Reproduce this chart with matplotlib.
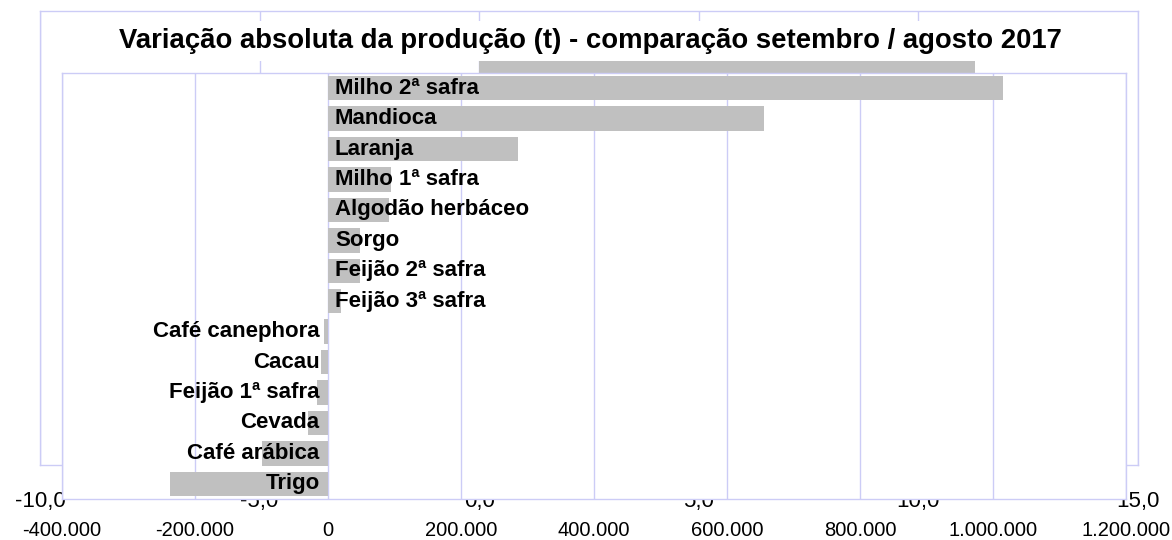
import matplotlib
matplotlib.use("Agg")
import matplotlib.pyplot as plt
from matplotlib.ticker import FuncFormatter

plt.rcParams['font.family'] = ['Liberation Sans', 'DejaVu Sans']

# ---- data ----
title = "Variação absoluta da produção (t) - comparação setembro / agosto 2017"

categories = ["Milho 2ª safra", "Mandioca", "Laranja", "Milho 1ª safra",
              "Algodão herbáceo", "Sorgo", "Feijão 2ª safra", "Feijão 3ª safra",
              "Café canephora", "Cacau", "Feijão 1ª safra", "Cevada",
              "Café arábica", "Trigo"]
values = [1015000, 655000, 286000, 95000, 92000, 48500, 48500, 19000,
          -6600, -10000, -16700, -29400, -99000, -238000]

x_ticks = [-400000, -200000, 0, 200000, 400000, 600000, 800000, 1000000, 1200000]

# background (percentage) chart that is mostly hidden behind the main one
bg_categories = ["Milho 2ª safra"]
bg_values = [11.3]
bg_ticks = [-10, -5, 0, 5, 10, 15]

GRID = '#CCCCF6'
BAR = '#C0C0C0'

W, H = 1172, 540
fig = plt.figure(figsize=(W / 100, H / 100), dpi=100)

def box(l, t, r, b):
    return [l / W, 1 - b / H, (r - l) / W, (b - t) / H]

# ---- background chart ----
ax0 = fig.add_axes(box(40, 11, 1138, 465))
ax0.set_zorder(0)
ax0.barh(range(len(bg_values)), bg_values, height=0.8, color=BAR, zorder=2)
ax0.set_xlim(bg_ticks[0], bg_ticks[-1])
ax0.set_ylim(12.9, -2.04)
ax0.set_xticks(bg_ticks)
ax0.xaxis.set_major_formatter(FuncFormatter(lambda v, p: f"{v:.1f}".replace('.', ',')))
ax0.set_yticks([])
ax0.grid(axis='x', color=GRID, linewidth=1, zorder=0)
ax0.set_axisbelow(True)
ax0.tick_params(axis='x', length=0, pad=19, labelsize=16)
for s in ax0.spines.values():
    s.set_color(GRID)
    s.set_linewidth(1)

# ---- main chart ----
ax = fig.add_axes(box(62, 73, 1126, 499))
ax.set_zorder(2)
ax.set_facecolor('white')
ypos = list(range(len(categories)))
ax.barh(ypos, values, height=0.8, color=BAR, zorder=2)
ax.set_xlim(x_ticks[0], x_ticks[-1])
ax.set_ylim(len(categories) - 0.5, -0.5)
ax.set_xticks(x_ticks)
ax.xaxis.set_major_formatter(FuncFormatter(lambda v, p: f"{int(v):,}".replace(',', '.')))
ax.set_yticks([])
ax.grid(axis='x', color=GRID, linewidth=1, zorder=0)
ax.set_axisbelow(True)
ax.tick_params(axis='x', length=0, pad=16, labelsize=14.5)
for s in ax.spines.values():
    s.set_color(GRID)
    s.set_linewidth(1)

for y, (cat, v) in enumerate(zip(categories, values)):
    if v >= 0:
        ax.annotate(cat, (0, y), xytext=(5, 0), textcoords='offset points',
                    ha='left', va='center', fontsize=16, fontweight='bold', zorder=5)
    else:
        ax.annotate(cat, (0, y), xytext=(-6, 0), textcoords='offset points',
                    ha='right', va='center', fontsize=16, fontweight='bold', zorder=5)

fig.text(590 / W, 1 - 41 / H, title, ha='center', va='center', fontsize=19.8,
         fontweight='bold', zorder=10,
         bbox=dict(facecolor='white', edgecolor='none', boxstyle='square,pad=0.25'))

fig.savefig('out.png', dpi=100, facecolor='white')
